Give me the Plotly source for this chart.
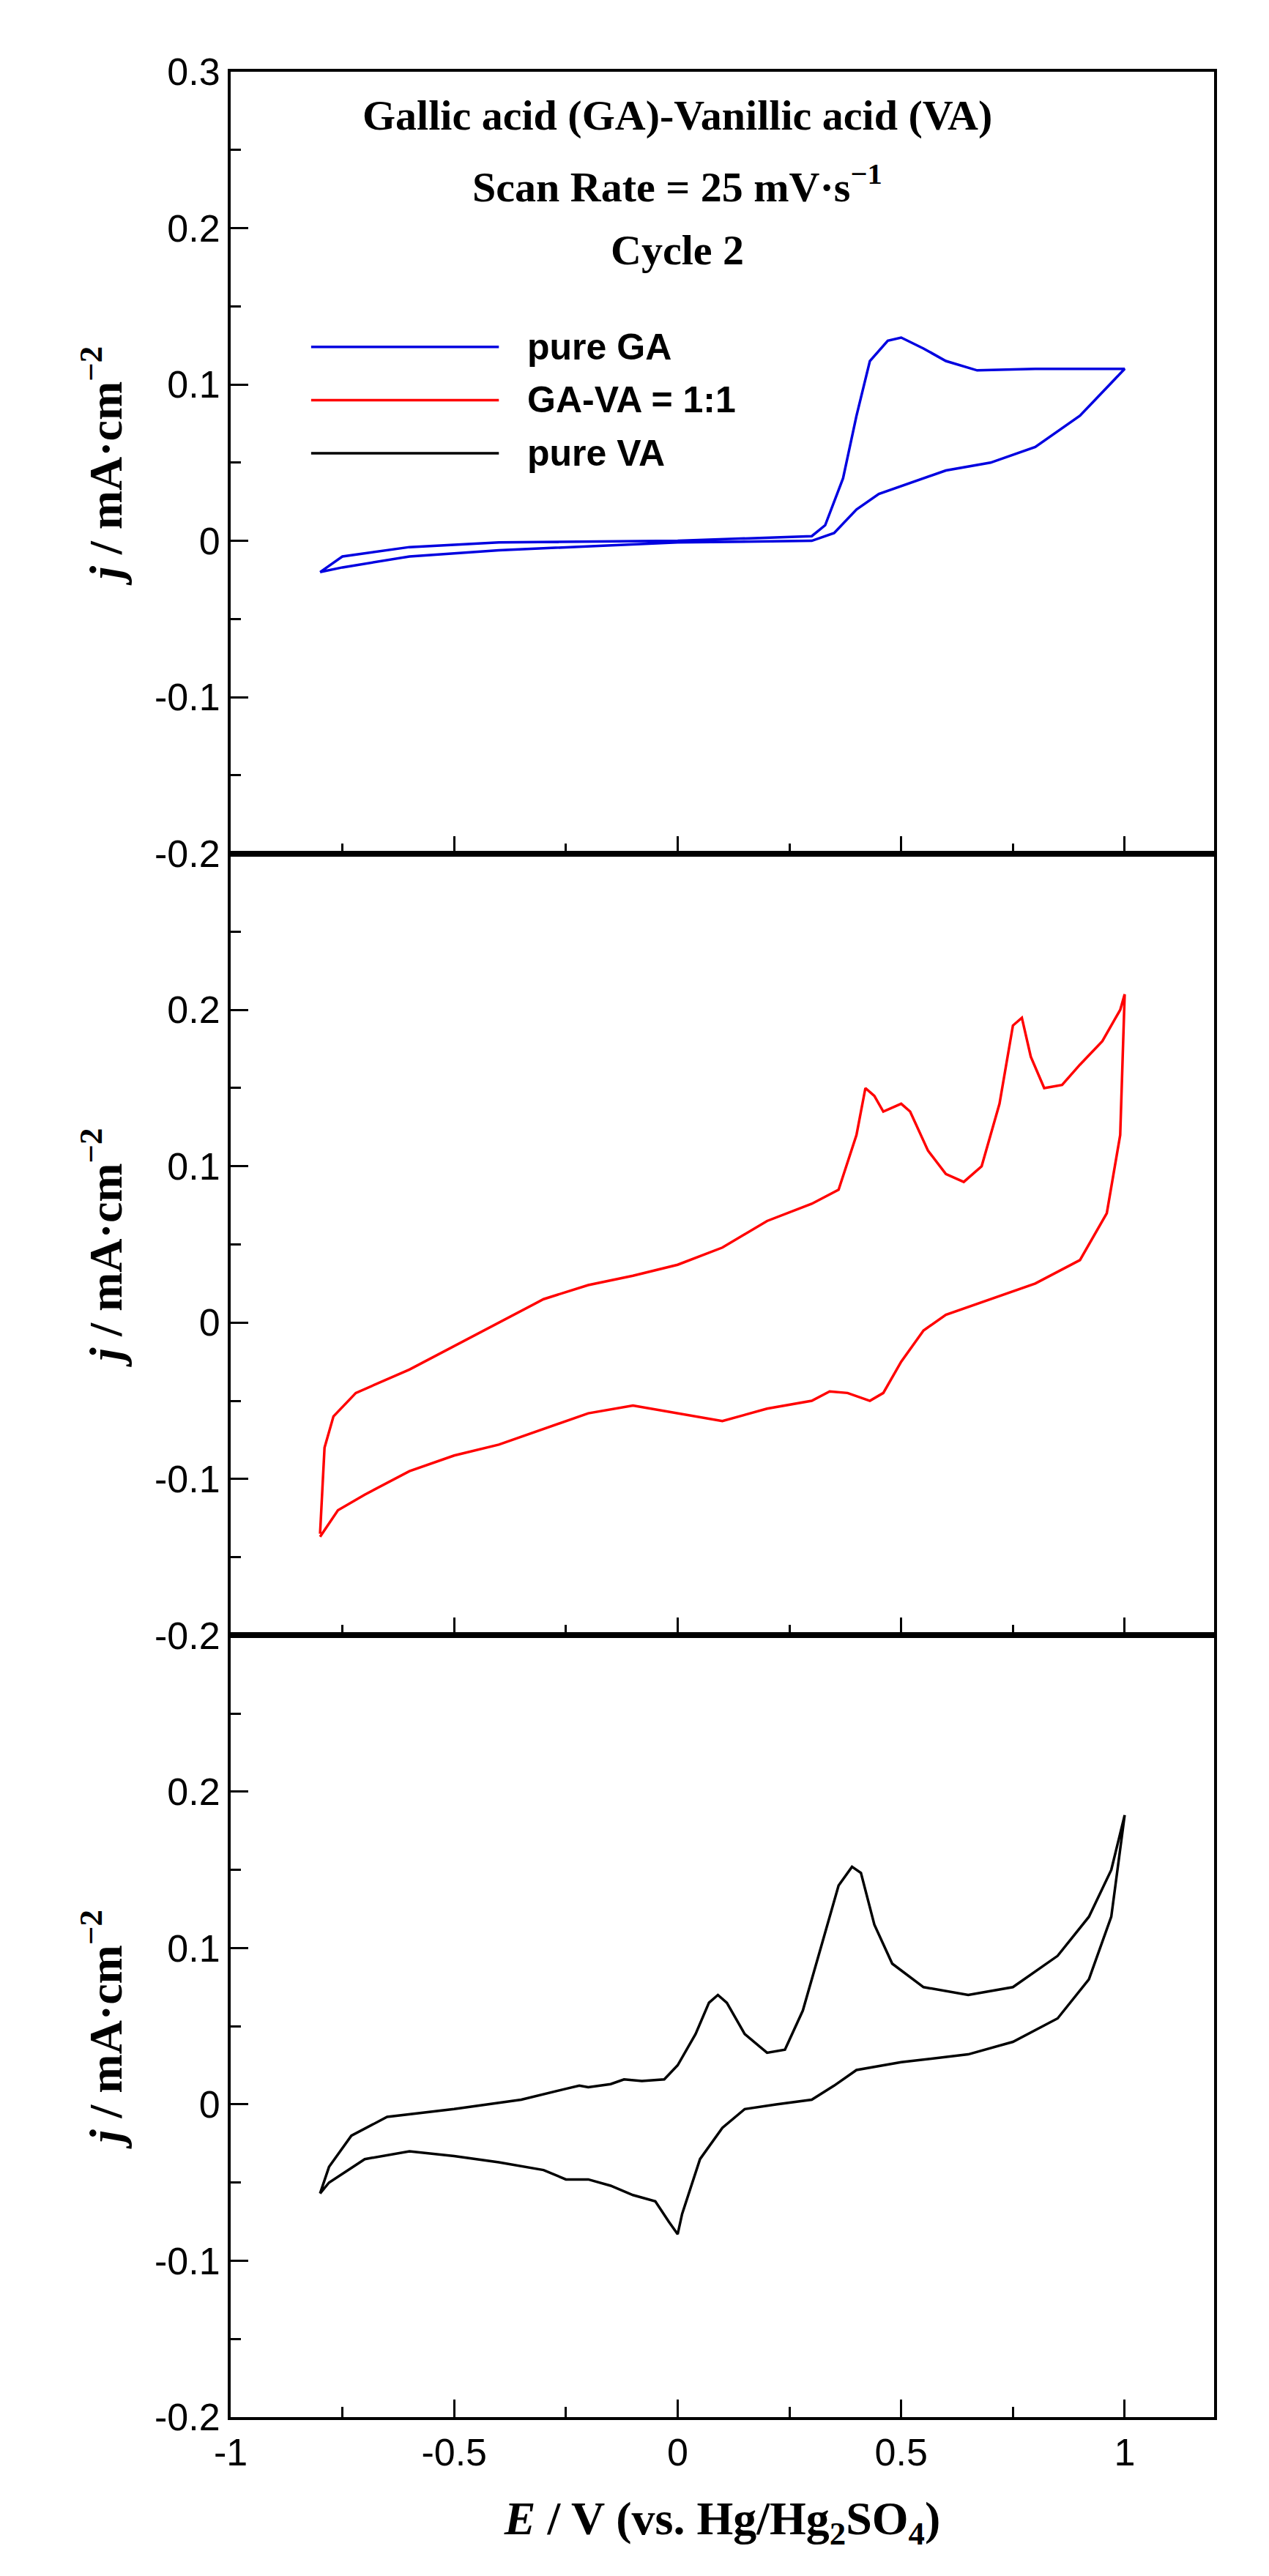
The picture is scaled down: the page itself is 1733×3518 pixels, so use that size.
import plotly.graph_objects as go

ga_f_x = [-0.8,-0.75,-0.6,-0.4,0,0.3,0.33,0.37,0.4,0.43,0.47,0.5,0.55,0.6,0.67,0.8,1.0]
ga_f_y = [-0.02,-0.01,-0.004,-0.001,0,0.003,0.01,0.04,0.08,0.115,0.128,0.13,0.123,0.115,0.109,0.11,0.11]
ga_r_x = [1.0,0.9,0.8,0.7,0.6,0.5,0.45,0.4,0.35,0.3,0,-0.4,-0.6,-0.75,-0.8]
ga_r_y = [0.11,0.08,0.06,0.05,0.045,0.035,0.03,0.02,0.005,0.0,-0.001,-0.006,-0.01,-0.017,-0.02]

mix_f_x = [-0.8,-0.79,-0.77,-0.72,-0.6,-0.5,-0.4,-0.3,-0.2,-0.1,0,0.1,0.2,0.3,0.36,0.4,0.42,0.44,0.46,0.5,0.52,0.56,0.6,0.64,0.68,0.72,0.75,0.77,0.79,0.82,0.86,0.9,0.95,0.99,1.0]
mix_f_y = [-0.135,-0.08,-0.06,-0.045,-0.03,-0.015,0.0,0.015,0.024,0.03,0.037,0.048,0.065,0.076,0.085,0.12,0.15,0.145,0.135,0.14,0.135,0.11,0.095,0.09,0.1,0.14,0.19,0.195,0.17,0.15,0.152,0.165,0.18,0.2,0.21]
mix_r_x = [1.0,0.99,0.96,0.9,0.8,0.7,0.6,0.55,0.5,0.46,0.43,0.38,0.34,0.3,0.2,0.1,0,-0.1,-0.2,-0.3,-0.4,-0.5,-0.6,-0.7,-0.76,-0.8]
mix_r_y = [0.21,0.12,0.07,0.04,0.025,0.015,0.005,-0.005,-0.025,-0.045,-0.05,-0.045,-0.044,-0.05,-0.055,-0.063,-0.058,-0.053,-0.058,-0.068,-0.078,-0.085,-0.095,-0.11,-0.12,-0.137]

va_f_x = [-0.8,-0.78,-0.73,-0.65,-0.5,-0.35,-0.25,-0.22,-0.2,-0.15,-0.12,-0.08,-0.03,0,0.04,0.07,0.09,0.11,0.15,0.2,0.24,0.28,0.32,0.36,0.39,0.41,0.44,0.48,0.55,0.65,0.75,0.85,0.92,0.97,1.0]
va_f_y = [-0.057,-0.04,-0.02,-0.008,-0.003,0.003,0.01,0.012,0.011,0.013,0.016,0.015,0.016,0.025,0.045,0.065,0.07,0.065,0.045,0.033,0.035,0.06,0.1,0.14,0.152,0.148,0.115,0.09,0.075,0.07,0.075,0.095,0.12,0.15,0.185]
va_r_x = [1.0,0.97,0.92,0.85,0.75,0.65,0.5,0.4,0.35,0.3,0.22,0.15,0.1,0.05,0.01,0,-0.02,-0.05,-0.1,-0.15,-0.2,-0.25,-0.3,-0.4,-0.5,-0.6,-0.7,-0.78,-0.8]
va_r_y = [0.185,0.12,0.08,0.055,0.04,0.032,0.027,0.022,0.012,0.003,0.0,-0.003,-0.015,-0.035,-0.07,-0.083,-0.075,-0.062,-0.058,-0.052,-0.048,-0.048,-0.042,-0.037,-0.033,-0.03,-0.035,-0.05,-0.057]

names = ["pure GA", "GA-VA = 1:1", "pure VA"]
colors = ["#0000e0", "#ff0000", "#000000"]
xtick_vals = [-1, -0.5, 0, 0.5, 1]
xtick_text = ["-1", "-0.5", "0", "0.5", "1"]
ytick_vals = [-0.2, -0.1, 0, 0.1, 0.2, 0.3]
ytick_text = ["-0.2", "-0.1", "0", "0.1", "0.2", "0.3"]
series = [(ga_f_x+ga_r_x, ga_f_y+ga_r_y), (mix_f_x+mix_r_x, mix_f_y+mix_r_y), (va_f_x+va_r_x, va_f_y+va_r_y)]

fig = go.Figure()
for i, ((x, y), n, c) in enumerate(zip(series, names, colors)):
    ax = "" if i == 0 else str(i+1)
    fig.add_trace(go.Scatter(x=x, y=y, mode="lines", name=n, line=dict(color=c, width=3.5),
                             xaxis="x"+ax, yaxis="y"+ax, showlegend=False))

tickf = dict(family="Liberation Sans", size=52, color="black")
ytitle = dict(text="<b><i>j</i> / mA·cm<sup>−2</sup></b>", font=dict(family="Liberation Serif", size=64, color="black"))
doms = [[2/3, 1], [1/3, 2/3], [0, 1/3]]
lay = dict(width=1733, height=3518, margin=dict(l=307, r=83, t=90, b=225),
           plot_bgcolor="white", paper_bgcolor="white", showlegend=False)
for i in range(3):
    k = "" if i == 0 else str(i+1)
    yv = ytick_vals if i == 0 else ytick_vals[:-1]
    yt = ytick_text if i == 0 else ytick_text[:-1]
    lay["xaxis"+k] = dict(range=[-1, 1.2], domain=[0, 1], anchor="y"+k, tickvals=xtick_vals, ticktext=xtick_text,
                          showticklabels=(i == 2), ticks="inside", ticklen=24, tickwidth=3, tickcolor="black",
                          minor=dict(tickvals=[-0.75,-0.25,0.25,0.75], ticks="inside", ticklen=14, tickwidth=3, tickcolor="black"),
                          showline=True, linecolor="black", linewidth=4, mirror=True, showgrid=False, zeroline=False,
                          tickfont=tickf)
    lay["yaxis"+k] = dict(range=[-0.2, 0.3], domain=doms[i], anchor="x"+k, tickvals=yv, ticktext=yt,
                          ticks="inside", ticklen=24, tickwidth=3, tickcolor="black",
                          minor=dict(tickvals=[-0.15,-0.05,0.05,0.15,0.25], ticks="inside", ticklen=14, tickwidth=3, tickcolor="black"),
                          showline=True, linecolor="black", linewidth=4, mirror=True, showgrid=False, zeroline=False,
                          tickfont=tickf, title=dict(ytitle, standoff=25))
lay["xaxis3"]["title"] = dict(text="<b><i>E</i> / V (vs. Hg/Hg<sub>2</sub>SO<sub>4</sub>)</b>",
                              font=dict(family="Liberation Serif", size=64, color="black"), standoff=40)
fig.update_layout(**lay)
tf = dict(family="Liberation Serif", size=58, color="black")
for txt, yy in [("<b>Gallic acid (GA)-Vanillic acid (VA)</b>", 0.272), ("<b>Scan Rate = 25 mV·s<sup>−1</sup></b>", 0.228), ("<b>Cycle 2</b>", 0.186)]:
    fig.add_annotation(x=0.0, y=yy, xref="x", yref="y", text=txt, showarrow=False, font=tf, xanchor="center")
for n, c, yy in zip(names, colors, [0.124, 0.09, 0.056]):
    fig.add_shape(type="line", x0=-0.82, x1=-0.4, y0=yy, y1=yy, xref="x", yref="y", line=dict(color=c, width=3.5))
    fig.add_annotation(x=-0.34, y=yy, xref="x", yref="y", text="<b>" + n + "</b>", showarrow=False, xanchor="left",
                       font=dict(family="Liberation Sans", size=50, color="black"))
fig.write_html("out.html")
